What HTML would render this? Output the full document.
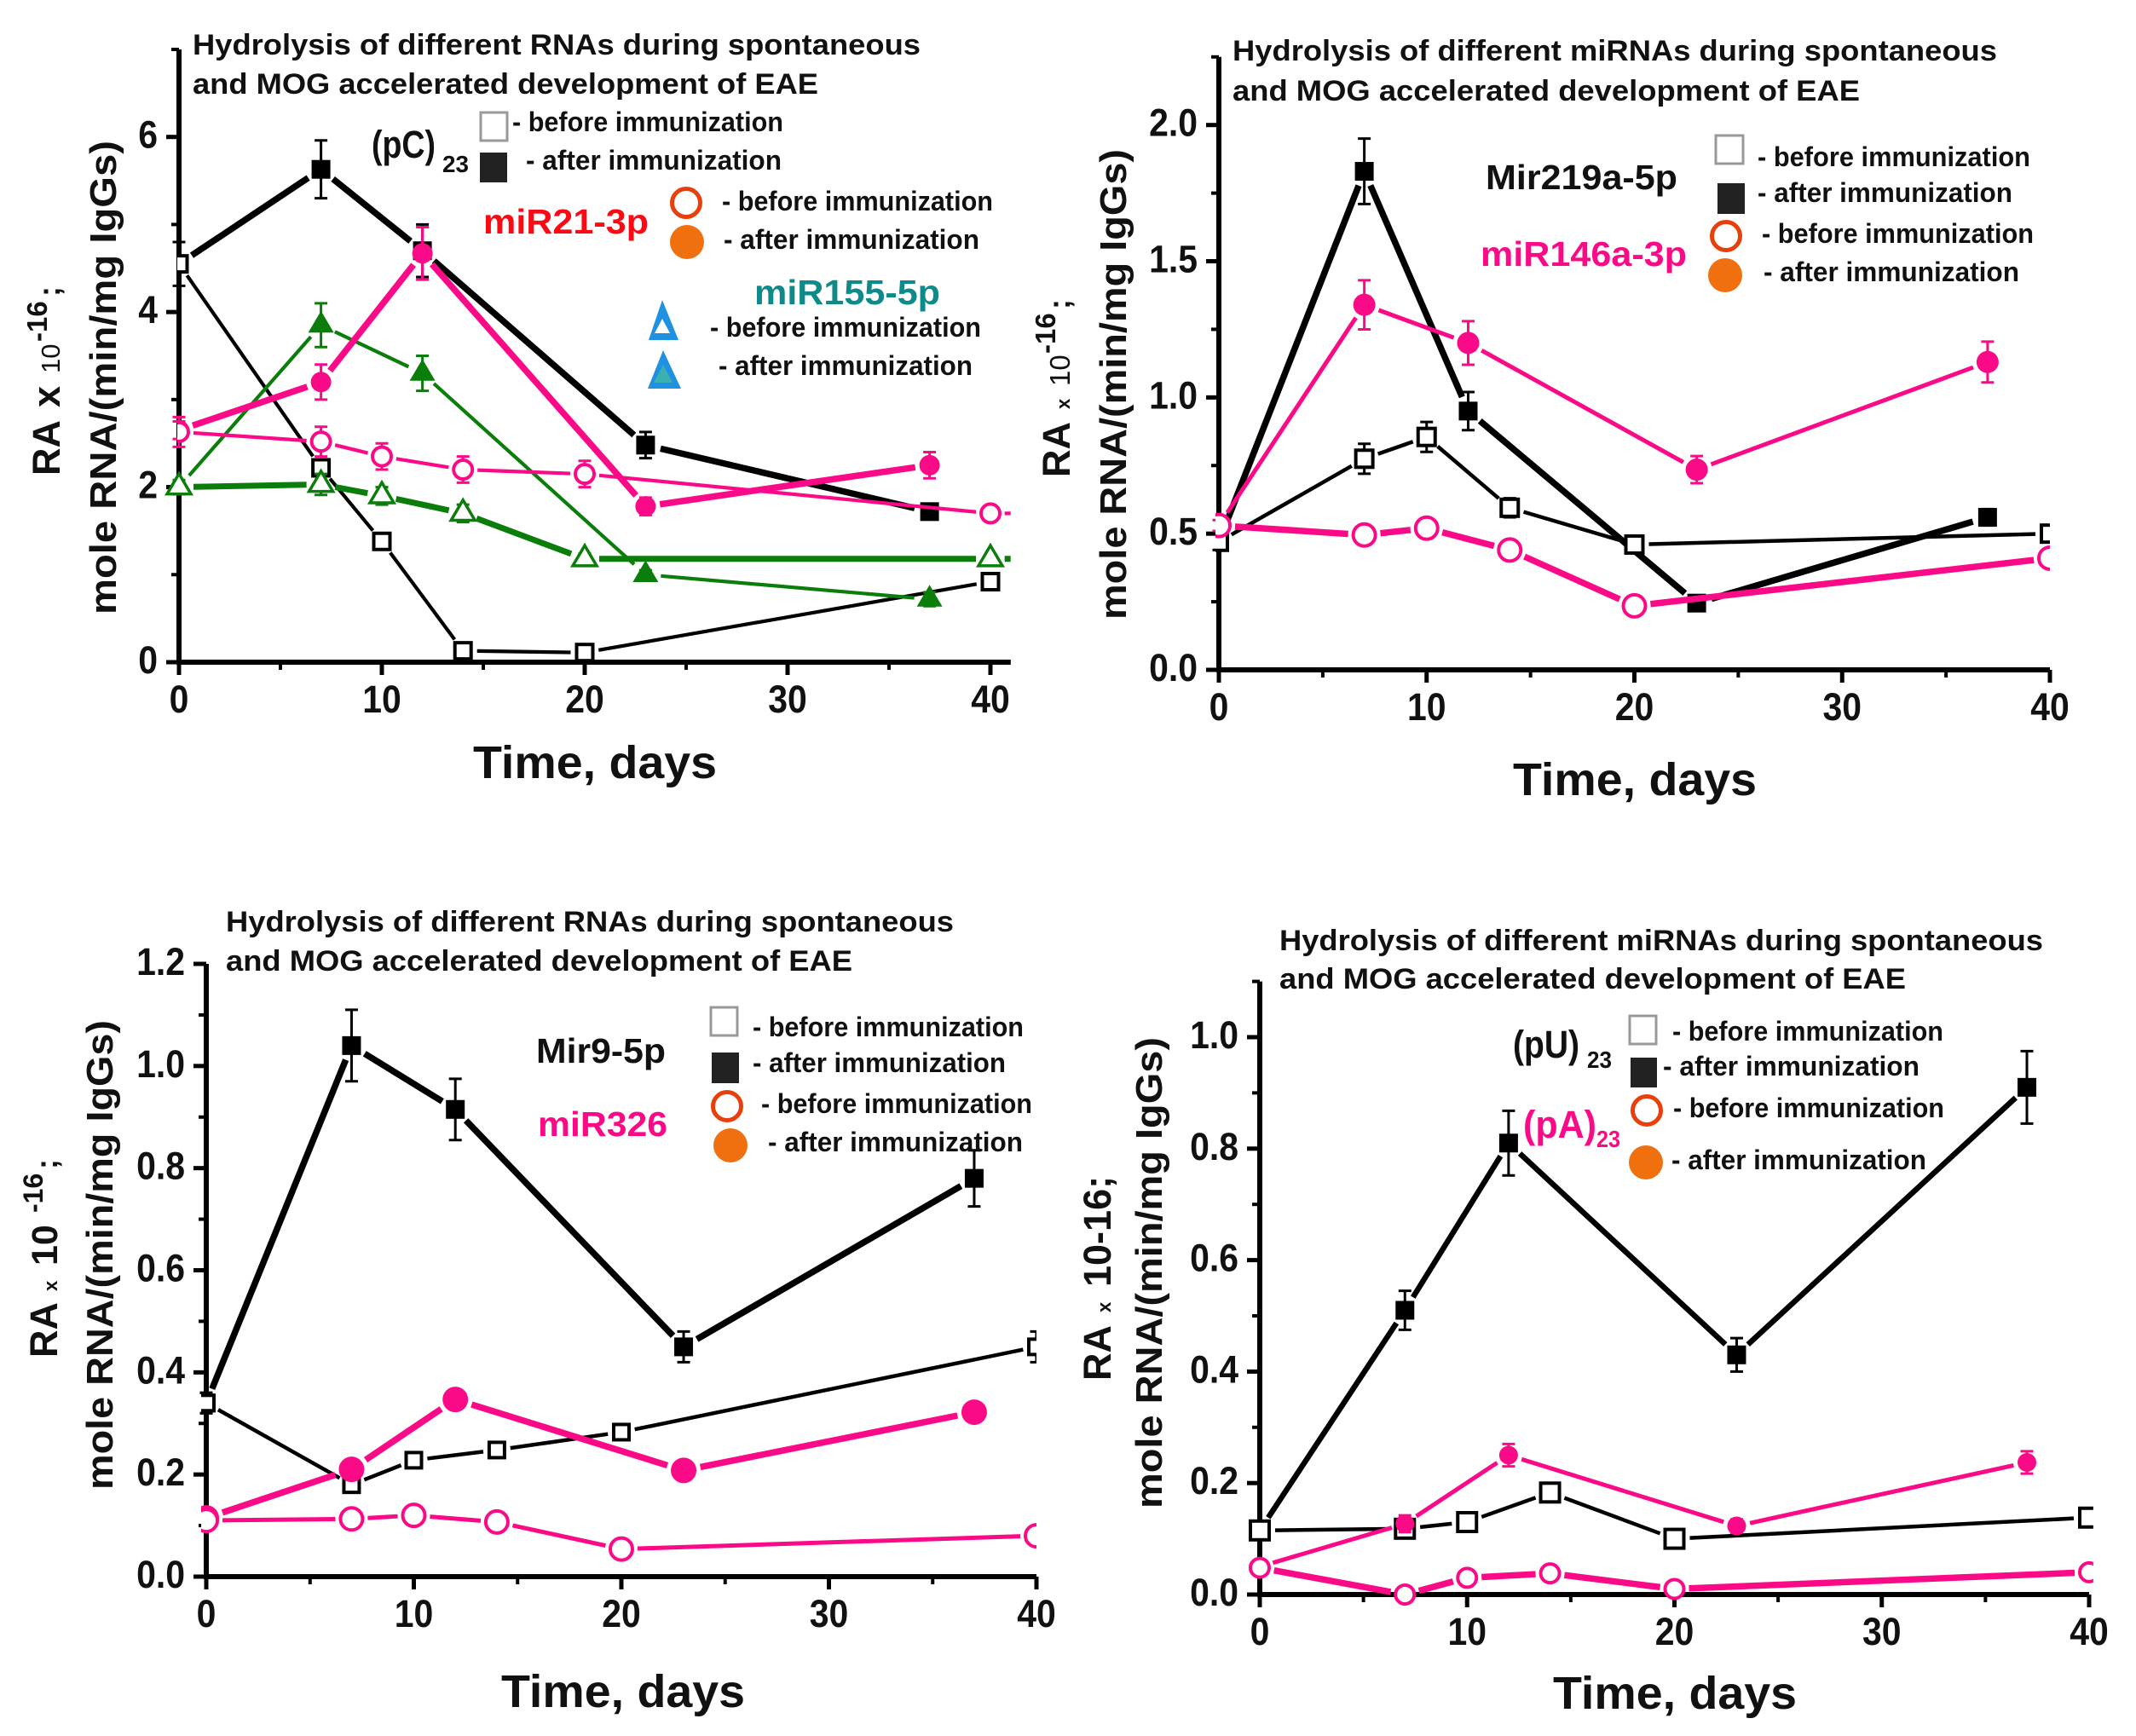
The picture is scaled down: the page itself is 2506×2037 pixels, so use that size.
<!DOCTYPE html>
<html lang="en">
<head>
<meta charset="utf-8">
<title>Hydrolysis of different RNAs during EAE development</title>
<style>
html,body{margin:0;padding:0;background:#fff;}
svg{display:block;}
text{font-family:"Liberation Sans",sans-serif;font-weight:bold;fill:#111;}
.ttl{font-size:34px;}
.leg{font-size:32px;}
.big{font-size:41px;}
.par{font-size:45px;}
.sub{font-size:28px;}
.xt{font-size:54px;}
.yl{font-size:44px;}
.pink{fill:#fb0a88;}
.red{fill:#fb0a14;}
.teal{fill:#0e8a8a;}
</style>
</head>
<body>
<svg id="figure" xmlns="http://www.w3.org/2000/svg" width="2506" height="2037" viewBox="0 0 2506 2037">
<rect width="2506" height="2037" fill="#fff"/>

<g id="panel-1"></g>
<g id="panel-2"></g>
<g id="panel-3"></g>
<g id="panel-4"></g>

<!-- Panel 1 text -->
<g>
<text class="ttl" x="226" y="64" textLength="854" lengthAdjust="spacingAndGlyphs">Hydrolysis of different RNAs during spontaneous</text>
<text class="ttl" x="226" y="110" textLength="734" lengthAdjust="spacingAndGlyphs">and MOG accelerated development of EAE</text>
<text class="xt" x="555" y="913" textLength="286" lengthAdjust="spacingAndGlyphs">Time, days</text>
<text class="yl" transform="translate(136,721) rotate(-90)" textLength="556" lengthAdjust="spacingAndGlyphs">mole RNA/(min/mg IgGs)</text>
<text transform="translate(70,558) rotate(-90)"><tspan font-size="45">RA</tspan><tspan x="80" font-size="45">x</tspan><tspan x="120" font-size="31" font-weight="normal">10</tspan><tspan x="157" dy="-15" font-size="33">-16</tspan><tspan x="210" dy="15" font-size="36">;</tspan></text>
<rect x="564" y="132" width="31" height="33" fill="#fff" stroke="#999" stroke-width="3"/>
<text class="leg" x="601" y="154" textLength="318" lengthAdjust="spacingAndGlyphs">- before immunization</text>
<rect x="563" y="179" width="32" height="35" fill="#222"/>
<text class="leg" x="617" y="199" textLength="300" lengthAdjust="spacingAndGlyphs">-  after immunization</text>
<text class="par" x="436" y="185" textLength="75" lengthAdjust="spacingAndGlyphs">(pC)</text>
<text class="sub" x="519" y="202" textLength="31" lengthAdjust="spacingAndGlyphs">23</text>
<text class="big red" x="567" y="274" textLength="194" lengthAdjust="spacingAndGlyphs">miR21-3p</text>
<circle cx="805" cy="238" r="16.5" fill="#fff" stroke="#e8400c" stroke-width="5"/>
<text class="leg" x="847" y="247" textLength="318" lengthAdjust="spacingAndGlyphs">- before immunization</text>
<circle cx="806" cy="284" r="20" fill="#f07010"/>
<text class="leg" x="849" y="292" textLength="300" lengthAdjust="spacingAndGlyphs">-  after immunization</text>
<text class="big teal" x="885" y="357" textLength="218" lengthAdjust="spacingAndGlyphs">miR155-5p</text>
<g>
<polygon points="777,352 796,399 761,399" fill="#2090e0"/>
<polygon points="777,374 786,391 768,391" fill="#fff"/>
</g>
<text class="leg" x="833" y="395" textLength="318" lengthAdjust="spacingAndGlyphs">- before immunization</text>
<g>
<polygon points="778,411 799,456 760,456" fill="#2090e0"/>
<polygon points="778,428 789,449 767,449" fill="#3ab0b0"/>
</g>
<text class="leg" x="843" y="440" textLength="298" lengthAdjust="spacingAndGlyphs">-  after immunization</text>
</g>

<!-- Panel 2 text -->
<g>
<text class="ttl" x="1446" y="71" textLength="897" lengthAdjust="spacingAndGlyphs">Hydrolysis of different miRNAs during spontaneous</text>
<text class="ttl" x="1446" y="118" textLength="736" lengthAdjust="spacingAndGlyphs">and MOG accelerated development of EAE</text>
<text class="xt" x="1775" y="933" textLength="286" lengthAdjust="spacingAndGlyphs">Time, days</text>
<text class="yl" transform="translate(1321,727) rotate(-90)" textLength="552" lengthAdjust="spacingAndGlyphs">mole RNA/(min/mg IgGs)</text>
<text transform="translate(1255,560) rotate(-90)"><tspan font-size="45">RA</tspan><tspan x="80" font-size="22">x</tspan><tspan x="107" font-size="33" font-weight="normal">10</tspan><tspan x="145" dy="-17" font-size="33">-16</tspan><tspan x="197" dy="17" font-size="36">;</tspan></text>
<text class="big" x="1743" y="222" textLength="225" lengthAdjust="spacingAndGlyphs">Mir219a-5p</text>
<text class="big pink" x="1737" y="312" textLength="242" lengthAdjust="spacingAndGlyphs">miR146a-3p</text>
<rect x="2013" y="159" width="32" height="33" fill="#fff" stroke="#999" stroke-width="3"/>
<text class="leg" x="2062" y="195" textLength="320" lengthAdjust="spacingAndGlyphs">- before immunization</text>
<rect x="2015" y="215" width="32" height="36" fill="#222"/>
<text class="leg" x="2062" y="237" textLength="299" lengthAdjust="spacingAndGlyphs">-  after immunization</text>
<circle cx="2025" cy="277" r="16.5" fill="#fff" stroke="#e8400c" stroke-width="5"/>
<text class="leg" x="2067" y="285" textLength="319" lengthAdjust="spacingAndGlyphs">- before immunization</text>
<circle cx="2024" cy="323" r="20" fill="#f07010"/>
<text class="leg" x="2069" y="330" textLength="300" lengthAdjust="spacingAndGlyphs">-  after immunization</text>
</g>

<!-- Panel 3 text -->
<g>
<text class="ttl" x="265" y="1093" textLength="854" lengthAdjust="spacingAndGlyphs">Hydrolysis of different RNAs during spontaneous</text>
<text class="ttl" x="265" y="1139" textLength="735" lengthAdjust="spacingAndGlyphs">and MOG accelerated development of EAE</text>
<text class="xt" x="588" y="2003" textLength="286" lengthAdjust="spacingAndGlyphs">Time, days</text>
<text class="yl" transform="translate(132,1748) rotate(-90)" textLength="551" lengthAdjust="spacingAndGlyphs">mole RNA/(min/mg IgGs)</text>
<text transform="translate(67,1593) rotate(-90)"><tspan font-size="45">RA</tspan><tspan x="78" font-size="22">x</tspan><tspan x="108" font-size="43">10</tspan><tspan x="170" dy="-17" font-size="32">-16</tspan><tspan x="221" dy="17" font-size="36">;</tspan></text>
<text class="big" x="629" y="1247" textLength="152" lengthAdjust="spacingAndGlyphs">Mir9-5p</text>
<text class="big pink" x="631" y="1333" textLength="152" lengthAdjust="spacingAndGlyphs">miR326</text>
<rect x="834" y="1182" width="31" height="33" fill="#fff" stroke="#999" stroke-width="3"/>
<text class="leg" x="883" y="1216" textLength="318" lengthAdjust="spacingAndGlyphs">- before immunization</text>
<rect x="835" y="1235" width="32" height="36" fill="#222"/>
<text class="leg" x="883" y="1258" textLength="297" lengthAdjust="spacingAndGlyphs">-  after immunization</text>
<circle cx="853" cy="1298" r="16.5" fill="#fff" stroke="#e8400c" stroke-width="5"/>
<text class="leg" x="893" y="1306" textLength="318" lengthAdjust="spacingAndGlyphs">- before immunization</text>
<circle cx="857" cy="1344" r="20" fill="#f07010"/>
<text class="leg" x="901" y="1351" textLength="299" lengthAdjust="spacingAndGlyphs">-  after immunization</text>
</g>

<!-- Panel 4 text -->
<g>
<text class="ttl" x="1501" y="1115" textLength="896" lengthAdjust="spacingAndGlyphs">Hydrolysis of different miRNAs during spontaneous</text>
<text class="ttl" x="1501" y="1160" textLength="735" lengthAdjust="spacingAndGlyphs">and MOG accelerated development of EAE</text>
<text class="xt" x="1822" y="2005" textLength="286" lengthAdjust="spacingAndGlyphs">Time, days</text>
<text class="yl" transform="translate(1363,1770) rotate(-90)" textLength="553" lengthAdjust="spacingAndGlyphs">mole RNA/(min/mg IgGs)</text>
<text transform="translate(1303,1620) rotate(-90)"><tspan font-size="45">RA</tspan><tspan x="80" font-size="22">x</tspan><tspan x="110" font-size="45">10-16;</tspan></text>
<text class="par" x="1775" y="1241" textLength="78" lengthAdjust="spacingAndGlyphs">(pU)</text>
<text class="sub" x="1862" y="1253" textLength="29" lengthAdjust="spacingAndGlyphs">23</text>
<text class="par pink" x="1787" y="1335" textLength="86" lengthAdjust="spacingAndGlyphs">(pA)</text>
<text class="sub pink" x="1873" y="1346" textLength="28" lengthAdjust="spacingAndGlyphs">23</text>
<rect x="1912" y="1192" width="31" height="33" fill="#fff" stroke="#999" stroke-width="3"/>
<text class="leg" x="1962" y="1221" textLength="318" lengthAdjust="spacingAndGlyphs">- before immunization</text>
<rect x="1913" y="1241" width="31" height="35" fill="#222"/>
<text class="leg" x="1951" y="1262" textLength="301" lengthAdjust="spacingAndGlyphs">-  after immunization</text>
<circle cx="1932" cy="1303" r="16.5" fill="#fff" stroke="#e8400c" stroke-width="5"/>
<text class="leg" x="1963" y="1311" textLength="318" lengthAdjust="spacingAndGlyphs">- before immunization</text>
<circle cx="1931" cy="1364" r="20" fill="#f07010"/>
<text class="leg" x="1961" y="1372" textLength="299" lengthAdjust="spacingAndGlyphs">-  after immunization</text>
</g>
</svg>

<script>
// Shared categories (days)
const daysAfter = [0, 7, 12, 23, 37];
const daysBefore = [0, 7, 10, 14, 20, 40];
const xTickValues = [0, 10, 20, 30, 40];
const xTickLabels = ["0", "10", "20", "30", "40"];
const xMinorValues = [5, 15, 25, 35];

// Panel 1
const p1YTicks = [0, 2, 4, 6];
const p1YLabels = ["0", "2", "4", "6"];
const p1YMinor = [1, 3, 5, 7];
const p1BlackBefore = [4.55, 2.22, 1.38, 0.13, 0.11, 0.92];
const p1BlackAfter = [4.55, 5.63, 4.7, 2.48, 1.72];
const p1BlackAfterErr = [0.25, 0.33, 0.3, 0.15, 0.05];
const p1GreenBefore = [2.0, 2.03, 1.9, 1.7, 1.18, 1.18];
const p1GreenBeforeErr = [0.08, 0.12, 0.1, 0.1, 0.06, 0.05];
const p1GreenAfter = [2.0, 3.85, 3.3, 1.0, 0.72];
const p1GreenAfterErr = [0.08, 0.25, 0.2, 0.05, 0.08];
const p1PinkBefore = [2.63, 2.52, 2.35, 2.2, 2.15, 1.7];
const p1PinkBeforeErr = [0.17, 0.17, 0.15, 0.15, 0.15, 0.06];
const p1PinkAfter = [2.65, 3.2, 4.67, 1.78, 2.25];
const p1PinkAfterErr = [0.1, 0.2, 0.3, 0.1, 0.15];

// Panel 2
const p2YTicks = [0, 0.5, 1, 1.5, 2];
const p2YLabels = ["0.0", "0.5", "1.0", "1.5", "2.0"];
const p2YMinor = [0.25, 0.75, 1.25, 1.75, 2.25];
const p2BlackBefore = [0.47, 0.775, 0.855, 0.595, 0.46, 0.5];
const p2BlackBeforeErr = [0.03, 0.055, 0.055, 0.035, 0.02, 0.02];
const p2BlackAfter = [0.47, 1.83, 0.95, 0.245, 0.56];
const p2BlackAfterErr = [0.03, 0.12, 0.07, 0.01, 0.03];
const p2PinkAfter = [0.53, 1.34, 1.2, 0.735, 1.13];
const p2PinkAfterErr = [0.02, 0.09, 0.08, 0.05, 0.075];
const p2PinkBefore = [0.53, 0.495, 0.52, 0.44, 0.235, 0.41];

// Panel 3
const p3YTicks = [0, 0.2, 0.4, 0.6, 0.8, 1, 1.2];
const p3YLabels = ["0.0", "0.2", "0.4", "0.6", "0.8", "1.0", "1.2"];
const p3YMinor = [0.1, 0.3, 0.5, 0.7, 0.9, 1.1];
const p3BlackBefore = [0.34, 0.18, 0.228, 0.248, 0.283, 0.45];
const p3BlackBeforeErr = [0.02, 0.01, 0.01, 0.01, 0.015, 0.03];
const p3BlackAfter = [0.34, 1.04, 0.915, 0.45, 0.78];
const p3BlackAfterErr = [0.02, 0.07, 0.06, 0.03, 0.055];
const p3PinkBefore = [0.11, 0.113, 0.12, 0.107, 0.054, 0.08];
const p3PinkAfter = [0.115, 0.21, 0.347, 0.208, 0.322];

// Panel 4
const p4YTicks = [0, 0.2, 0.4, 0.6, 0.8, 1];
const p4YLabels = ["0.0", "0.2", "0.4", "0.6", "0.8", "1.0"];
const p4YMinor = [0.1, 0.3, 0.5, 0.7, 0.9, 1.1];
const p4BlackBefore = [0.115, 0.118, 0.13, 0.183, 0.1, 0.138];
const p4BlackAfter = [0.115, 0.51, 0.81, 0.43, 0.91];
const p4BlackAfterErr = [0.01, 0.035, 0.058, 0.03, 0.065];
const p4PinkAfter = [0.05, 0.127, 0.25, 0.123, 0.237];
const p4PinkAfterErr = [0, 0.015, 0.02, 0.012, 0.02];
const p4PinkBefore = [0.048, 0, 0.03, 0.038, 0.01, 0.04];

const NS = "http://www.w3.org/2000/svg";
const BLACK = "#000";
const PINK = "#fb0a88";
const GREEN = "#0a7d0a";

function make(tag, attrs, parent) {
  const el = document.createElementNS(NS, tag);
  for (const k in attrs) el.setAttribute(k, attrs[k]);
  parent.appendChild(el);
  return el;
}

function squeeze(el) {
  el.setAttribute("textLength", el.getComputedTextLength() * 0.91);
  el.setAttribute("lengthAdjust", "spacingAndGlyphs");
}

function setupPanel(id, f) {
  const g = document.getElementById(id);
  const sx = v => f.x0 + (f.x40 - f.x0) * v / 40;
  const sy = v => f.y0 + (f.yRefPx - f.y0) * v / f.yRef;
  const axis = make("g", {}, g);
  
  

  const yLine = make("line", {x1: sx(0), x2: sx(0), y1: sy(0) + 3, y2: sy(f.yMax), stroke: BLACK, "stroke-width": 6}, axis);
  
  
  const xLine = make("line", {x1: sx(0) - 3, x2: sx(f.xMax), y1: sy(0), y2: sy(0), stroke: BLACK, "stroke-width": 6}, axis);
  
  

  f.yTicks.forEach((v, i) => {
    const t = make("line", {x1: sx(0) - 15, x2: sx(0), y1: sy(v), y2: sy(v), stroke: BLACK, "stroke-width": 5}, axis);
    
    
    const lab = make("text", {x: sx(0) - 25, y: sy(v) + 13, "text-anchor": "end", "font-size": 45}, axis);
    
    
    lab.textContent = f.yLabels[i];
    squeeze(lab);
  });
  f.yMinor.forEach(v => {
    const t = make("line", {x1: sx(0) - 9, x2: sx(0), y1: sy(v), y2: sy(v), stroke: BLACK, "stroke-width": 4}, axis);
    
    
  });
  xTickValues.forEach((v, i) => {
    const t = make("line", {x1: sx(v), x2: sx(v), y1: sy(0), y2: sy(0) + 15, stroke: BLACK, "stroke-width": 5}, axis);
    
    
    const lab = make("text", {x: sx(v), y: sy(0) + 59, "text-anchor": "middle", "font-size": 45}, axis);
    
    
    lab.textContent = xTickLabels[i];
    squeeze(lab);
  });
  xMinorValues.forEach(v => {
    const t = make("line", {x1: sx(v), x2: sx(v), y1: sy(0), y2: sy(0) + 9, stroke: BLACK, "stroke-width": 4}, axis);
    
    
  });

  const clipId = id + "-clip";
  const edgeId = id + "-edge";
  const defs = make("defs", {}, g);
  const cp = make("clipPath", {id: clipId}, defs);
  make("rect", {x: sx(0) - 60, y: 0, width: sx(f.clipAt) - sx(0) + 60, height: 2037}, cp);
  const ep = make("clipPath", {id: edgeId}, defs);
  make("rect", {x: sx(0) - f.leftClip, y: 0, width: 2506, height: 2037}, ep);
  const plot = make("g", {"clip-path": "url(#" + clipId + ")"}, g);
  
  
  return {plot, sx, sy, edgeId};
}

function drawSeries(p, name, xs, ys, errs, st) {
  const g = make("g", {}, p.plot);
  
  
  const px = xs.map(p.sx);
  const py = ys.map(p.sy);

  for (let i = 0; i + 1 < xs.length; i++) {
    const dx = px[i + 1] - px[i], dy = py[i + 1] - py[i];
    const len = Math.hypot(dx, dy) || 1;
    const gx = dx / len * st.gap, gy = dy / len * st.gap;
    const seg = make("line", {x1: px[i] + gx, y1: py[i] + gy, x2: px[i + 1] - gx, y2: py[i + 1] - gy, stroke: st.color, "stroke-width": st.width}, g);
    
    
  }

  if (st.tail) {
    const n = xs.length - 1;
    const tailSeg = make("line", {x1: p.sx(xs[n] + 0.7), y1: py[n], x2: p.sx(xs[n] + 1), y2: py[n], stroke: st.color, "stroke-width": st.width}, g);
    
    
  }

  if (errs) {
    errs.forEach((e, i) => {
      if (!e) return;
      const top = p.sy(ys[i] + e), bot = p.sy(ys[i] - e);
      const bar = make("path", {
        d: "M" + px[i] + " " + top + "V" + bot +
           "M" + (px[i] - 7.5) + " " + top + "H" + (px[i] + 7.5) +
           "M" + (px[i] - 7.5) + " " + bot + "H" + (px[i] + 7.5),
        stroke: st.color, "stroke-width": 3, fill: "none"}, g);
      
      
    });
  }

  xs.forEach((xv, i) => {
    const cx = px[i], cy = py[i], r = st.size;
    const common = {fill: st.filled ? st.color : "#fff", stroke: st.color, "stroke-width": st.filled ? 0 : st.ms};
    if (xv === 0 && st.shape !== "tri") common["clip-path"] = "url(#" + p.edgeId + ")";
    let m;
    if (st.shape === "square") {
      m = make("rect", Object.assign({x: cx - r, y: cy - r, width: 2 * r, height: 2 * r}, common), g);
    } else if (st.shape === "circle") {
      m = make("circle", Object.assign({cx: cx, cy: cy, r: r}, common), g);
    } else {
      m = make("polygon", Object.assign({points: cx + "," + (cy - r * 1.12) + " " + (cx + r) + "," + (cy + r * 0.58) + " " + (cx - r) + "," + (cy + r * 0.58)}, common), g);
    }
    
    
  });
}

const sqOpen = (w, s) => ({color: BLACK, width: w, gap: s + 7, shape: "square", filled: false, size: s, ms: 4});
const sqFill = (w, s) => ({color: BLACK, width: w, gap: s + 7, shape: "square", filled: true, size: s, ms: 0});
const cOpen = (w, s) => ({color: PINK, width: w, gap: s + 6, shape: "circle", filled: false, size: s, ms: 4});
const cFill = (w, s) => ({color: PINK, width: w, gap: s + 5, shape: "circle", filled: true, size: s, ms: 0});
const tOpen = (w, s) => ({color: GREEN, width: w, gap: s + 3, shape: "tri", filled: false, size: s, ms: 3.5});
const tFill = (w, s) => ({color: GREEN, width: w, gap: s + 3, shape: "tri", filled: true, size: s, ms: 0});

const p1 = setupPanel("panel-1", {x0: 210, x40: 1162, y0: 777, yRef: 6, yRefPx: 160.7, yMax: 7, xMax: 41, clipAt: 41, leftClip: 2,
  yTicks: p1YTicks, yLabels: p1YLabels, yMinor: p1YMinor});
drawSeries(p1, "series-pc-after", daysAfter, p1BlackAfter, p1BlackAfterErr, sqFill(7.5, 11));
drawSeries(p1, "series-pc-before", daysBefore, p1BlackBefore, null, sqOpen(4.2, 9.5));
drawSeries(p1, "series-mir155-after", daysAfter, p1GreenAfter, p1GreenAfterErr, tFill(4.2, 15));
drawSeries(p1, "series-mir155-before", daysBefore, p1GreenBefore, p1GreenBeforeErr, Object.assign(tOpen(7, 14), {tail: true}));
drawSeries(p1, "series-mir21-after", daysAfter, p1PinkAfter, p1PinkAfterErr, cFill(7.5, 12));
drawSeries(p1, "series-mir21-before", daysBefore, p1PinkBefore, p1PinkBeforeErr, Object.assign(cOpen(4.2, 11), {tail: true}));

const p2 = setupPanel("panel-2", {x0: 1430, x40: 2405, y0: 786, yRef: 2, yRefPx: 146.7, yMax: 2.25, xMax: 40, clipAt: 40, leftClip: 4,
  yTicks: p2YTicks, yLabels: p2YLabels, yMinor: p2YMinor});
drawSeries(p2, "series-mir219-after", daysAfter, p2BlackAfter, p2BlackAfterErr, sqFill(7.5, 11));
drawSeries(p2, "series-mir219-before", daysBefore, p2BlackBefore, p2BlackBeforeErr, sqOpen(4.5, 10));
drawSeries(p2, "series-mir146-after", daysAfter, p2PinkAfter, p2PinkAfterErr, cFill(5, 13));
drawSeries(p2, "series-mir146-before", daysBefore, p2PinkBefore, null, cOpen(7.5, 13));

const p3 = setupPanel("panel-3", {x0: 242, x40: 1216, y0: 1850, yRef: 1.2, yRefPx: 1131, yMax: 1.2, xMax: 40, clipAt: 40, leftClip: 6,
  yTicks: p3YTicks, yLabels: p3YLabels, yMinor: p3YMinor});
drawSeries(p3, "series-mir9-after", daysAfter, p3BlackAfter, p3BlackAfterErr, sqFill(7.5, 11));
drawSeries(p3, "series-mir9-before", daysBefore, p3BlackBefore, p3BlackBeforeErr, sqOpen(4.5, 9));
drawSeries(p3, "series-mir326-after", daysAfter, p3PinkAfter, null, cFill(7.5, 15));
drawSeries(p3, "series-mir326-before", daysBefore, p3PinkBefore, null, cOpen(5, 13));

const p4 = setupPanel("panel-4", {x0: 1478, x40: 2451, y0: 1871, yRef: 1, yRefPx: 1217, yMax: 1.1, xMax: 40, clipAt: 40.2, leftClip: 30,
  yTicks: p4YTicks, yLabels: p4YLabels, yMinor: p4YMinor});
drawSeries(p4, "series-pu-after", daysAfter, p4BlackAfter, p4BlackAfterErr, sqFill(6.5, 11));
drawSeries(p4, "series-pu-before", daysBefore, p4BlackBefore, null, sqOpen(4.5, 11));
drawSeries(p4, "series-pa-after", daysAfter, p4PinkAfter, p4PinkAfterErr, cFill(5, 11));
drawSeries(p4, "series-pa-before", daysBefore, p4PinkBefore, null, cOpen(7.5, 11));
</script>
</body>
</html>
